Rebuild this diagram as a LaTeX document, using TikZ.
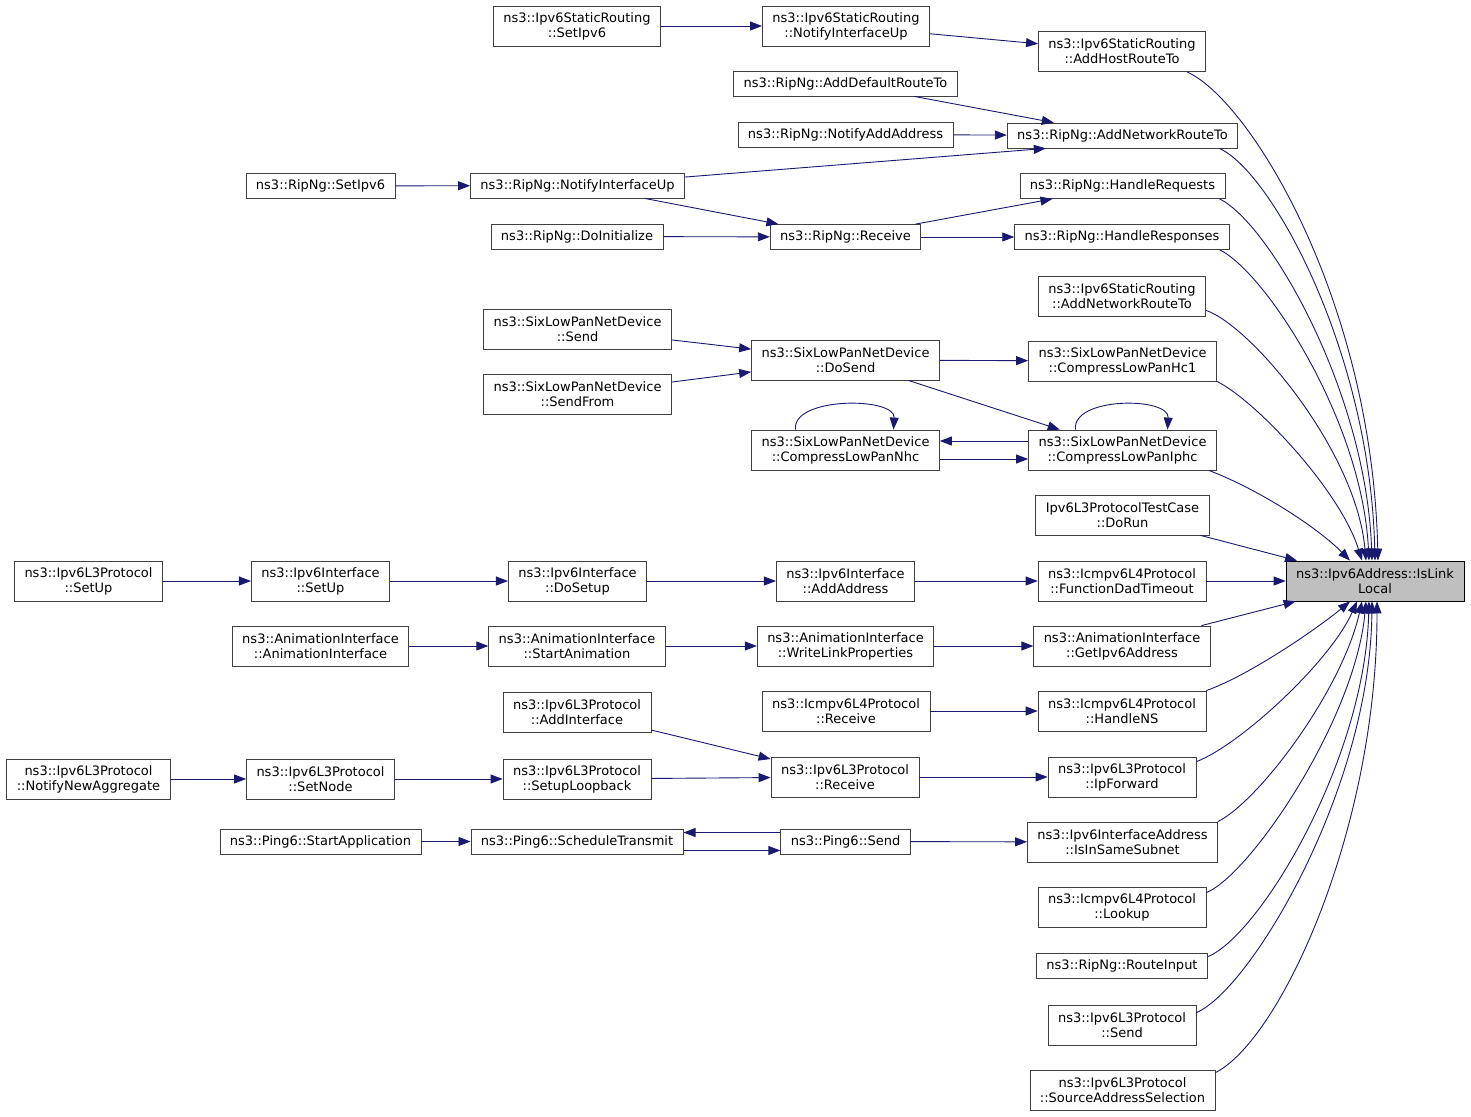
\documentclass[tikz,border=0pt]{standalone}
\usepackage{fontspec}
\setmainfont{DejaVu Sans}
\usepackage{tikz}
\usetikzlibrary{arrows.meta}
\definecolor{edgeblue}{HTML}{191970}
\tikzstyle{func} = [rectangle, draw=black!75, fill=white, align=center, inner xsep=10pt, inner ysep=2pt, minimum height=25pt, line width=0.8pt, font=\fontsize{13}{15}\selectfont]
\tikzstyle{func2} = [func, minimum height=40pt]
\tikzstyle{call} = [draw=edgeblue, line width=0.9pt, -{Triangle[length=12pt,width=9pt]}]

\begin{document}
\begin{tikzpicture}[x=1pt, y=-1pt]
        \useasboundingbox (0,0) rectangle (1471,1116);

        \node[func2, fill=black!25, draw=black] at (1375, 581) (IsLinkLocal) {ns3::Ipv6Address::IsLink\\Local};

        % direct callers
        \node[func2] at (1122, 51.5) (SRAddHostRouteTo) {ns3::Ipv6StaticRouting\\::AddHostRouteTo};
        \node[func] at (1122.5, 135.5) (RipAddNetworkRouteTo) {ns3::RipNg::AddNetworkRouteTo};
        \node[func] at (1122.5, 186) (HandleRequests) {ns3::RipNg::HandleRequests};
        \node[func] at (1122, 237) (HandleResponses) {ns3::RipNg::HandleResponses};
        \node[func2] at (1122, 296) (SRAddNetworkRouteTo) {ns3::Ipv6StaticRouting\\::AddNetworkRouteTo};
        \node[func2] at (1122.5, 361) (CompressLowPanHc1) {ns3::SixLowPanNetDevice\\::CompressLowPanHc1};
        \node[func2] at (1122.5, 450) (CompressLowPanIphc) {ns3::SixLowPanNetDevice\\::CompressLowPanIphc};
        \node[func2] at (1122.5, 515) (TestDoRun) {Ipv6L3ProtocolTestCase\\::DoRun};
        \node[func2] at (1122, 581) (FunctionDadTimeout) {ns3::Icmpv6L4Protocol\\::FunctionDadTimeout};
        \node[func2] at (1122, 646) (GetIpv6Address) {ns3::AnimationInterface\\::GetIpv6Address};
        \node[func2] at (1122, 711) (HandleNS) {ns3::Icmpv6L4Protocol\\::HandleNS};
        \node[func2] at (1122, 777) (IpForward) {ns3::Ipv6L3Protocol\\::IpForward};
        \node[func2] at (1122.5, 842) (IsInSameSubnet) {ns3::Ipv6InterfaceAddress\\::IsInSameSubnet};
        \node[func2] at (1122, 907) (IcmpLookup) {ns3::Icmpv6L4Protocol\\::Lookup};
        \node[func] at (1122, 965.5) (RouteInput) {ns3::RipNg::RouteInput};
        \node[func2] at (1122, 1025) (L3Send) {ns3::Ipv6L3Protocol\\::Send};
        \node[func2] at (1122.5, 1090) (SourceAddressSelection) {ns3::Ipv6L3Protocol\\::SourceAddressSelection};

        \node[func2] at (846, 26) (SRNotifyInterfaceUp) {ns3::Ipv6StaticRouting\\::NotifyInterfaceUp};
        \node[func] at (845.5, 83.5) (AddDefaultRouteTo) {ns3::RipNg::AddDefaultRouteTo};
        \node[func] at (845.5, 134.5) (NotifyAddAddress) {ns3::RipNg::NotifyAddAddress};
        \node[func] at (845.5, 237) (RipReceive) {ns3::RipNg::Receive};
        \node[func2] at (845.5, 360) (DoSend) {ns3::SixLowPanNetDevice\\::DoSend};
        \node[func2] at (845.5, 450) (CompressLowPanNhc) {ns3::SixLowPanNetDevice\\::CompressLowPanNhc};
        \node[func2] at (845.5, 581) (AddAddress) {ns3::Ipv6Interface\\::AddAddress};
        \node[func2] at (845.5, 646) (WriteLinkProperties) {ns3::AnimationInterface\\::WriteLinkProperties};
        \node[func2] at (846, 711) (IcmpReceive) {ns3::Icmpv6L4Protocol\\::Receive};
        \node[func2] at (845, 777) (L3Receive) {ns3::Ipv6L3Protocol\\::Receive};
        \node[func] at (845.5, 841.5) (PingSend) {ns3::Ping6::Send};

        \node[func2] at (577, 26) (SRSetIpv6) {ns3::Ipv6StaticRouting\\::SetIpv6};
        \node[func] at (577.5, 185.5) (RipNotifyInterfaceUp) {ns3::RipNg::NotifyInterfaceUp};
        \node[func] at (577, 236.5) (DoInitialize) {ns3::RipNg::DoInitialize};
        \node[func2] at (577.5, 329) (SixSend) {ns3::SixLowPanNetDevice\\::Send};
        \node[func2] at (577.5, 394) (SendFrom) {ns3::SixLowPanNetDevice\\::SendFrom};
        \node[func2] at (577.5, 581) (DoSetup) {ns3::Ipv6Interface\\::DoSetup};
        \node[func2] at (577, 646) (StartAnimation) {ns3::AnimationInterface\\::StartAnimation};
        \node[func2] at (577, 712) (AddInterface) {ns3::Ipv6L3Protocol\\::AddInterface};
        \node[func2] at (577, 779) (SetupLoopback) {ns3::Ipv6L3Protocol\\::SetupLoopback};
        \node[func] at (577, 841.5) (ScheduleTransmit) {ns3::Ping6::ScheduleTransmit};

        \node[func] at (320.5, 186) (RipSetIpv6) {ns3::RipNg::SetIpv6};
        \node[func2] at (320.5, 581) (IfSetUp) {ns3::Ipv6Interface\\::SetUp};
        \node[func2] at (320.5, 646) (AnimationInterface) {ns3::AnimationInterface\\::AnimationInterface};
        \node[func2] at (320.5, 779) (SetNode) {ns3::Ipv6L3Protocol\\::SetNode};
        \node[func] at (320.5, 841.5) (StartApplication) {ns3::Ping6::StartApplication};

        \node[func2] at (88.5, 581) (L3SetUp) {ns3::Ipv6L3Protocol\\::SetUp};
        \node[func2] at (88.5, 779) (NotifyNewAggregate) {ns3::Ipv6L3Protocol\\::NotifyNewAggregate};

        % calls between the callers
        \draw[call] (SRSetIpv6) -- (SRNotifyInterfaceUp);
        \draw[call] (SRNotifyInterfaceUp) -- (SRAddHostRouteTo);
        \draw[call] (AddDefaultRouteTo) -- (RipAddNetworkRouteTo);
        \draw[call] (NotifyAddAddress) -- (RipAddNetworkRouteTo);
        \draw[call] (RipNotifyInterfaceUp) -- ([xshift=39pt]RipAddNetworkRouteTo.south west);
        \draw[call] (RipSetIpv6) -- (RipNotifyInterfaceUp);
        \draw[call] (RipNotifyInterfaceUp) -- (RipReceive);
        \draw[call] (DoInitialize) -- (RipReceive);
        \draw[call] (RipReceive) -- (HandleRequests);
        \draw[call] (RipReceive) -- (HandleResponses);
        \draw[call] (SixSend) -- (DoSend);
        \draw[call] (SendFrom) -- (DoSend);
        \draw[call] (DoSend) -- (CompressLowPanHc1);
        \draw[call] (DoSend) -- (CompressLowPanIphc);
        \draw[call] ([yshift=9pt]CompressLowPanIphc.west) -- ([yshift=9pt]CompressLowPanNhc.east);
        \draw[call] ([yshift=-9pt]CompressLowPanNhc.east) -- ([yshift=-9pt]CompressLowPanIphc.west);
        \draw[call] ([xshift=-50pt]CompressLowPanNhc.north) .. controls ([xshift=-54pt, yshift=33pt]CompressLowPanNhc.north) and ([xshift=50pt, yshift=33pt]CompressLowPanNhc.north) .. ([xshift=48pt]CompressLowPanNhc.north);
        \draw[call] ([xshift=-47pt]CompressLowPanIphc.north) .. controls ([xshift=-51pt, yshift=33pt]CompressLowPanIphc.north) and ([xshift=47pt, yshift=33pt]CompressLowPanIphc.north) .. ([xshift=45pt]CompressLowPanIphc.north);
        \draw[call] (L3SetUp) -- (IfSetUp);
        \draw[call] (IfSetUp) -- (DoSetup);
        \draw[call] (DoSetup) -- (AddAddress);
        \draw[call] (AddAddress) -- (FunctionDadTimeout);
        \draw[call] (AnimationInterface) -- (StartAnimation);
        \draw[call] (StartAnimation) -- (WriteLinkProperties);
        \draw[call] (WriteLinkProperties) -- (GetIpv6Address);
        \draw[call] (IcmpReceive) -- (HandleNS);
        \draw[call] (AddInterface) -- (L3Receive);
        \draw[call] (SetupLoopback) -- (L3Receive);
        \draw[call] (NotifyNewAggregate) -- (SetNode);
        \draw[call] (SetNode) -- (SetupLoopback);
        \draw[call] (L3Receive) -- (IpForward);
        \draw[call] (StartApplication) -- (ScheduleTransmit);
        \draw[call] ([yshift=9pt]PingSend.west) -- ([yshift=9pt]ScheduleTransmit.east);
        \draw[call] ([yshift=-9pt]ScheduleTransmit.east) -- ([yshift=-9pt]PingSend.west);
        \draw[call] (PingSend) -- (IsInSameSubnet);

        % into IsLinkLocal
        \draw[call] ([xshift=-19pt]SRAddHostRouteTo.south east) .. controls (1250, 100) and (1372, 300) .. ([xshift=3pt]IsLinkLocal.north);
        \draw[call] ([xshift=-19pt]RipAddNetworkRouteTo.south east) .. controls (1270, 170) and (1370, 350) .. (IsLinkLocal.north);
        \draw[call] ([xshift=-6pt]HandleRequests.south east) .. controls (1268, 222) and (1366, 390) .. ([xshift=-3pt]IsLinkLocal.north);
        \draw[call] ([xshift=-10pt]HandleResponses.south east) .. controls (1265, 272) and (1362, 420) .. ([xshift=-6pt]IsLinkLocal.north);
        \draw[call] ([yshift=6pt]SRAddNetworkRouteTo.south east) .. controls (1250, 325) and (1356, 450) .. ([xshift=-9pt]IsLinkLocal.north);
        \draw[call] (CompressLowPanHc1.south east) .. controls (1255, 400) and (1340, 490) .. ([xshift=-13pt]IsLinkLocal.north);
        \draw[call] ([xshift=-8pt]CompressLowPanIphc.south east) .. controls (1260, 490) and (1318, 528) .. ([xshift=-25pt]IsLinkLocal.north);
        \draw[call] (TestDoRun) -- (IsLinkLocal);
        \draw[call] (FunctionDadTimeout) -- (IsLinkLocal);
        \draw[call] (GetIpv6Address) -- (IsLinkLocal);
        \draw[call] (HandleNS.north east) .. controls (1250, 675) and (1318, 628) .. ([xshift=-25pt]IsLinkLocal.south);
        \draw[call] ([yshift=-5pt]IpForward.north east) .. controls (1240, 745) and (1330, 662) .. ([xshift=-18pt]IsLinkLocal.south);
        \draw[call] (IsInSameSubnet.north east) .. controls (1260, 800) and (1342, 690) .. ([xshift=-13pt]IsLinkLocal.south);
        \draw[call] ([yshift=-6pt]IcmpLookup.north east) .. controls (1250, 875) and (1355, 720) .. ([xshift=-9pt]IsLinkLocal.south);
        \draw[call] ([yshift=-4pt]RouteInput.north east) .. controls (1260, 935) and (1365, 760) .. ([xshift=-6pt]IsLinkLocal.south);
        \draw[call] ([yshift=-8pt]L3Send.north east) .. controls (1250, 990) and (1370, 790) .. ([xshift=-3pt]IsLinkLocal.south);
        \draw[call] ([yshift=-3pt]SourceAddressSelection.north east) .. controls (1280, 1040) and (1377, 830) .. ([xshift=2pt]IsLinkLocal.south);

    \end{tikzpicture}
\end{document}
